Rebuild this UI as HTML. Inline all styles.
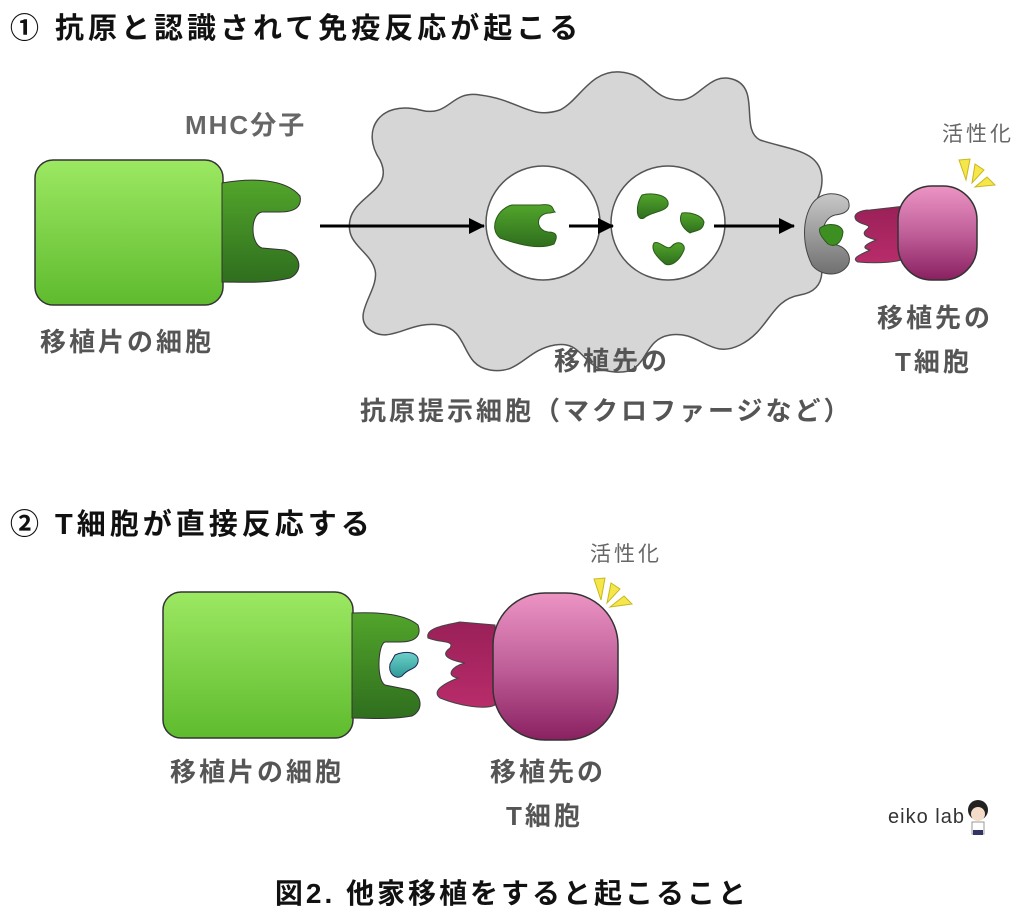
<!DOCTYPE html>
<html><head><meta charset="utf-8"><style>
body{margin:0;background:#fff;width:1024px;height:918px;overflow:hidden}
svg{display:block}
.t{font-family:"Liberation Sans","Noto Sans CJK JP",sans-serif;font-weight:bold}
.l{font-size:26px;letter-spacing:3px;fill:#555}
</style></head><body>
<svg width="1024" height="918" viewBox="0 0 1024 918" xmlns="http://www.w3.org/2000/svg">
<defs>
<linearGradient id="g1" x1="0" y1="0" x2="0" y2="1"><stop offset="0" stop-color="#9ce862"/><stop offset="1" stop-color="#5fbb2e"/></linearGradient>
<linearGradient id="g2" x1="0" y1="0" x2="0" y2="1"><stop offset="0" stop-color="#52a52b"/><stop offset="1" stop-color="#2f6e1e"/></linearGradient>
<linearGradient id="pk" x1="0" y1="0" x2="0" y2="1"><stop offset="0" stop-color="#ec94c4"/><stop offset="0.5" stop-color="#c0609a"/><stop offset="1" stop-color="#8a2060"/></linearGradient>
<linearGradient id="mg" x1="0" y1="0" x2="0" y2="1"><stop offset="0" stop-color="#9a2058"/><stop offset="1" stop-color="#b82c6a"/></linearGradient>
<linearGradient id="gy" x1="0" y1="0" x2="0" y2="1"><stop offset="0" stop-color="#c8c8c8"/><stop offset="1" stop-color="#707070"/></linearGradient>
<linearGradient id="tl" x1="0" y1="0" x2="0" y2="1"><stop offset="0" stop-color="#6cd0c8"/><stop offset="1" stop-color="#2e9a98"/></linearGradient>
<marker id="ar" markerWidth="16" markerHeight="16" refX="15" refY="8" orient="auto" markerUnits="userSpaceOnUse"><path d="M0,0 L16,8 L0,16 Z" fill="#000"/></marker>
</defs>
<text class="t" x="10" y="38" font-size="29" letter-spacing="4" fill="#111">① 抗原と認識されて免疫反応が起こる</text>
<text class="t" x="185" y="134" font-size="26" letter-spacing="2" fill="#666">MHC分子</text>

<path d="M380,160 C360,130 380,100 420,110 C450,118 450,90 480,95 C520,100 530,120 560,110 C580,100 590,70 620,72 C650,74 650,100 680,100 C700,100 710,70 735,80 C760,90 740,130 760,140 C790,150 822,150 822,180 C822,205 800,212 810,235 C825,260 830,290 800,295 C770,300 770,330 740,345 C710,360 700,330 670,335 C640,340 650,375 615,372 C580,370 585,340 555,345 C525,350 520,375 490,370 C460,365 470,330 440,325 C410,320 390,345 370,330 C350,315 380,290 375,270 C370,250 345,245 350,220 C355,195 395,190 380,160 Z" fill="#d6d6d6" stroke="#555" stroke-width="1.5"/>
<circle cx="543" cy="223" r="57" fill="#fff" stroke="#555" stroke-width="1.5"/>
<circle cx="668" cy="223" r="57" fill="#fff" stroke="#555" stroke-width="1.5"/>
<path d="M540,205 C555,203 552,210 555,212 L550,213 C535,213 535,230 548,232 C560,232 556,240 554,244 C540,250 520,245 500,238 C488,228 498,208 512,205 Z" fill="url(#g2)" stroke="#2a5a1a" stroke-width="1"/>
<path d="M642,195 C652,192 670,195 668,205 C666,212 650,212 644,218 C636,222 635,205 642,195 Z" fill="url(#g2)" stroke="#2a5a1a"/>
<path d="M682,213 C690,212 702,215 704,222 C703,232 695,230 690,233 C682,228 678,220 682,213 Z" fill="url(#g2)" stroke="#2a5a1a"/>
<path d="M654,243 C660,240 667,252 672,246 C677,240 686,243 684,250 C680,260 672,267 665,264 C658,258 650,250 654,243 Z" fill="url(#g2)" stroke="#2a5a1a"/>
<line x1="320" y1="226" x2="484" y2="226" stroke="#000" stroke-width="3" marker-end="url(#ar)"/>
<line x1="569" y1="226" x2="613" y2="226" stroke="#000" stroke-width="3" marker-end="url(#ar)"/>
<line x1="714" y1="226" x2="794" y2="226" stroke="#000" stroke-width="3" marker-end="url(#ar)"/>

<rect x="35" y="160" width="188" height="145" rx="18" fill="url(#g1)" stroke="#333" stroke-width="1.5"/>
<path d="M222,183 C250,178 285,178 300,196 C302,206 296,212 280,212 L262,212 C250,214 250,244 262,248 L285,250 C302,255 303,272 290,278 C265,284 240,282 222,282 Z" fill="url(#g2)" stroke="#333" stroke-width="1"/>
<text class="t l" x="40" y="351">移植片の細胞</text>

<path d="M812,204 C822,190 840,192 848,200 C852,210 845,214 835,215 C822,218 818,240 832,244 C848,246 852,258 848,265 C840,278 820,276 812,265 C802,245 802,220 812,204 Z" fill="url(#gy)" stroke="#444" stroke-width="1"/>
<path d="M820,228 C828,222 842,224 843,232 C842,243 835,248 828,244 C822,238 818,232 820,228 Z" fill="#3e8f22" stroke="#2a5a1a"/>
<path d="M905,206 L870,210 C860,210 852,214 856,220 C862,226 874,224 866,230 C860,236 870,238 876,240 C866,244 860,248 870,250 C862,254 850,258 858,262 C880,264 900,262 905,258 Z" fill="url(#mg)" stroke="#444" stroke-width="1"/>
<rect x="898" y="186" width="79" height="94" rx="34" fill="url(#pk)" stroke="#333" stroke-width="1.5"/>
<text x="942" y="141" font-family="Liberation Sans,Noto Sans CJK JP,sans-serif" font-size="21" letter-spacing="3" fill="#666">活性化</text>
<g fill="#f5e64a" stroke="#c8b820" stroke-width="1"><path d="M959,160 L970,159 L966,180 Z"/><path d="M975,164 L984,170 L972,183 Z"/><path d="M987,177 L995,185 L975,187 Z"/></g>
<text class="t l" x="877" y="327">移植先の</text>
<text class="t l" x="895" y="371">T細胞</text>
<text class="t l" x="554" y="370">移植先の</text>
<text class="t l" x="360" y="420">抗原提示細胞（マクロファージなど）</text>

<text class="t" x="10" y="534" font-size="29" letter-spacing="4" fill="#111">② T細胞が直接反応する</text>
<rect x="163" y="592" width="190" height="146" rx="18" fill="url(#g1)" stroke="#333" stroke-width="1.5"/>
<path d="M352,613 C380,612 405,614 418,625 C422,636 415,642 400,642 L385,642 C378,644 376,680 385,685 L410,690 C422,695 424,710 412,716 C390,720 368,718 352,718 Z" fill="url(#g2)" stroke="#333" stroke-width="1"/>
<path d="M395,655 C405,650 420,652 418,662 C416,670 408,668 402,676 C396,680 388,674 390,664 Z" fill="url(#tl)" stroke="#225" stroke-width="1"/>
<path d="M495,625 L460,622 C445,625 425,628 428,638 C440,643 455,640 450,648 C440,655 448,660 465,663 C452,666 445,676 458,678 C448,682 430,690 440,698 C460,706 485,710 495,705 Z" fill="url(#mg)" stroke="#444" stroke-width="1"/>
<rect x="493" y="593" width="125" height="147" rx="52" fill="url(#pk)" stroke="#333" stroke-width="1.5"/>
<text x="590" y="561" font-family="Liberation Sans,Noto Sans CJK JP,sans-serif" font-size="21" letter-spacing="3" fill="#666">活性化</text>
<g fill="#f5e64a" stroke="#c8b820" stroke-width="1"><path d="M594,579 L605,578 L601,600 Z"/><path d="M611,583 L620,589 L607,603 Z"/><path d="M624,596 L632,604 L610,607 Z"/></g>
<text class="t l" x="170" y="781">移植片の細胞</text>
<text class="t l" x="490" y="781">移植先の</text>
<text class="t l" x="506" y="825">T細胞</text>
<text x="888" y="823" font-family="Liberation Sans,sans-serif" font-size="20" letter-spacing="1" fill="#333">eiko lab</text>
<circle cx="978" cy="810" r="10" fill="#222"/><circle cx="978" cy="814" r="7" fill="#f4dcc8"/><rect x="972" y="822" width="12" height="12" fill="#fff" stroke="#999"/><rect x="973" y="830" width="10" height="5" fill="#336"/>
<text class="t" x="512" y="903" font-size="28" letter-spacing="3" fill="#111" text-anchor="middle">図2. 他家移植をすると起こること</text>
</svg>
</body></html>
